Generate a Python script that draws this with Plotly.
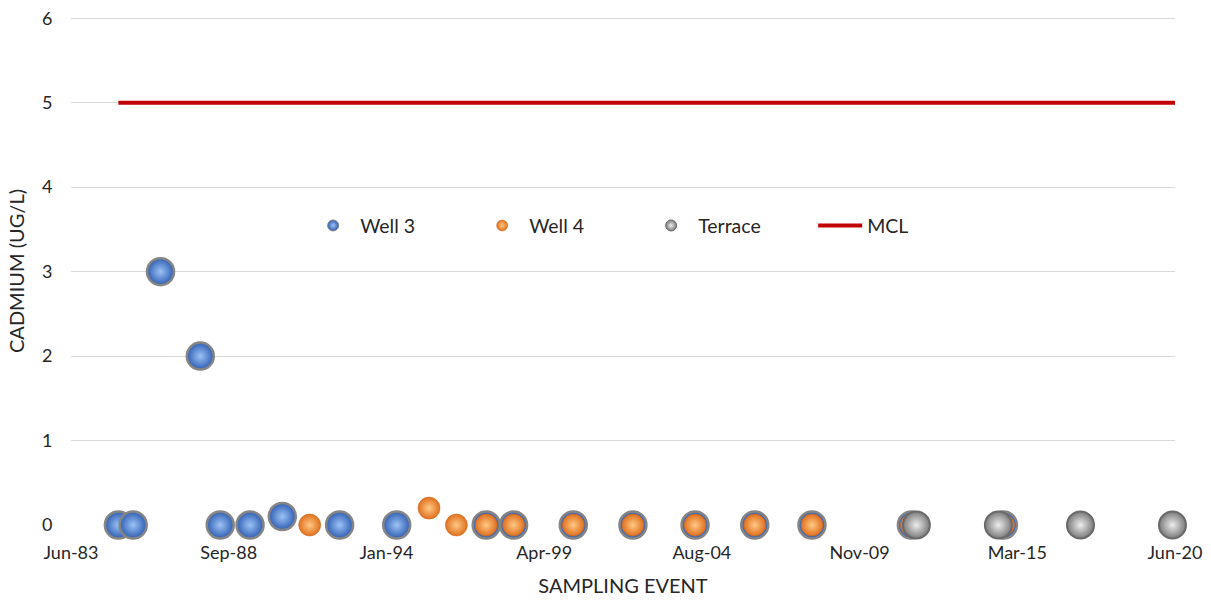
import pandas as pd
import numpy as np
import plotly.graph_objects as go

# ---- data ----
well3_dates = ["1985-01-01", "1985-07-01", "1986-06-01", "1987-10-01", "1988-06-01",
               "1989-06-01", "1990-07-01", "1992-06-01", "1994-05-01", "1997-05-01",
               "1998-04-01", "2000-04-01", "2002-04-01", "2004-05-01", "2006-05-01",
               "2008-04-01", "2011-08-01", "2014-09-01"]
well3_vals = [0, 0, 3, 2, 0, 0, 0.1, 0, 0, 0, 0, 0, 0, 0, 0, 0, 0, 0]

well4_dates = ["1991-06-01", "1995-06-01", "1996-05-01", "1997-05-01", "1998-04-01",
               "2000-04-01", "2002-04-01", "2004-05-01", "2006-05-01", "2008-04-01",
               "2011-08-01", "2014-09-01"]
well4_vals = [0, 0.2, 0, 0, 0, 0, 0, 0, 0, 0, 0, 0]

terrace_dates = ["2011-10-01", "2014-07-01", "2017-04-01", "2020-05-01"]
terrace_vals = [0, 0, 0, 0]

mcl_dates = ["1985-01-01", "2020-06-01"]
mcl_vals = [5, 5]

x_tick_labels = ["Jun-83", "Sep-88", "Jan-94", "Apr-99", "Aug-04", "Nov-09", "Mar-15", "Jun-20"]
x_min, x_max = "1983-06-01", "2020-06-01"
y_min, y_max = 0, 6

# ---- figure ----
FONT = "Lato"
FS = 18
TXT = "#262626"
tick_pos = pd.to_datetime(np.linspace(pd.Timestamp(x_min).value, pd.Timestamp(x_max).value,
                                      len(x_tick_labels)))

fig = go.Figure()

def ball(color, center, size, line_color, line_w):
    return dict(color=color, size=size, gradient=dict(type="radial", color=center),
                line=dict(color=line_color, width=line_w))

W3 = ("#2F5FB3", "#9CC2F5")
W4 = ("#E0701E", "#FFC985")
TR = ("#7A7A7A", "#EDEDED")

fig.add_trace(go.Scatter(x=well3_dates, y=well3_vals, mode="markers", name="Well 3",
                         showlegend=False, cliponaxis=False,
                         marker=ball(W3[0], W3[1], 27, "#858585", 2.5)))
fig.add_trace(go.Scatter(x=well4_dates, y=well4_vals, mode="markers", name="Well 4",
                         showlegend=False, cliponaxis=False,
                         marker=ball(W4[0], W4[1], 22, "#C8641C", 0.5)))
fig.add_trace(go.Scatter(x=terrace_dates, y=terrace_vals, mode="markers", name="Terrace",
                         showlegend=False, cliponaxis=False,
                         marker=ball(TR[0], TR[1], 27, "#6A6A6A", 2)))
fig.add_trace(go.Scatter(x=mcl_dates, y=mcl_vals, mode="lines", name="MCL",
                         showlegend=False, line=dict(color="#C00000", width=4)))

# legend-only entries with small symbols
fig.add_trace(go.Scatter(x=[None], y=[None], mode="markers", name="Well 3",
                         marker=ball(W3[0], W3[1], 11, "#858585", 1)))
fig.add_trace(go.Scatter(x=[None], y=[None], mode="markers", name="Well 4",
                         marker=ball(W4[0], W4[1], 11, "#C8641C", 0.5)))
fig.add_trace(go.Scatter(x=[None], y=[None], mode="markers", name="Terrace",
                         marker=ball(TR[0], TR[1], 11, "#6A6A6A", 1)))
fig.add_trace(go.Scatter(x=[None], y=[None], mode="lines", name="MCL",
                         line=dict(color="#C00000", width=4)))

fig.update_layout(
    width=1211, height=600,
    margin=dict(l=71, r=36, t=17, b=75),
    paper_bgcolor="white", plot_bgcolor="white",
    font=dict(family=FONT, size=FS, color=TXT),
    legend=dict(orientation="h", x=0.213, xanchor="left", y=0.589, yanchor="middle",
                bgcolor="rgba(0,0,0,0)", font=dict(family=FONT, size=19.5, color=TXT),
                entrywidth=110, entrywidthmode="pixels", itemwidth=44),
    xaxis=dict(type="date", range=[x_min, x_max], tickvals=tick_pos, ticktext=x_tick_labels,
               showgrid=False, zeroline=False, showline=False, automargin=False,
               ticks="outside", ticklen=11, tickcolor="rgba(0,0,0,0)",
               ticklabeloverflow="allow",
               title=dict(text="SAMPLING EVENT", font=dict(size=20), standoff=17)),
    yaxis=dict(range=[y_min, y_max + 0.015], tickvals=list(range(y_min, y_max + 1)),
               showgrid=True, gridcolor="#D9D9D9", gridwidth=1.3,
               zeroline=False, showline=False, automargin=False,
               ticks="outside", ticklen=14, tickcolor="rgba(0,0,0,0)",
               ticklabeloverflow="allow",
               title=dict(text="CADMIUM (UG/L)", font=dict(size=20), standoff=11)),
)

fig.write_html("out.html", config={"displayModeBar": False},
               post_script="document.body.style.margin='0px';document.body.style.overflow='hidden';")
